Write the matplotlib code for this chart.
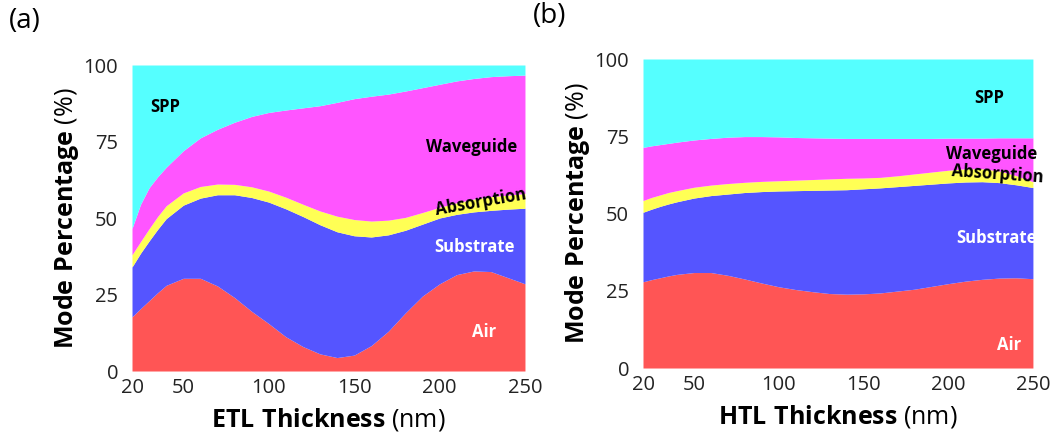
import numpy as np
import matplotlib.pyplot as plt

plt.rcParams['font.family'] = ['Open Sans', 'DejaVu Sans']
plt.rcParams['mathtext.fontset'] = 'custom'
plt.rcParams['mathtext.rm'] = 'Open Sans'
plt.rcParams['mathtext.bf'] = 'Open Sans:bold'

thickness = [20, 25, 30, 35, 40, 50, 60, 70, 80, 90, 100, 110, 120, 130,
             140, 150, 160, 170, 180, 190, 200, 210, 220, 230, 240, 250]

# (a) ETL: cumulative upper edge of each mode band (%)
air_a = [17.7, 20.4, 23.0, 25.6, 28.0, 30.3, 30.3, 27.8, 24.0, 19.5, 15.5, 11.2, 8.0, 5.6,
         4.4, 5.2, 8.3, 13.0, 19.0, 24.5, 28.5, 31.5, 32.7, 32.5, 30.5, 28.5]
substrate_a = [34.0, 38.5, 42.5, 46.3, 49.8, 54.2, 56.5, 57.6, 57.6, 56.7, 55.2, 53.0, 50.5, 47.8,
               45.5, 44.2, 43.8, 44.5, 46.0, 48.0, 50.0, 51.2, 52.0, 52.5, 52.9, 53.2]
absorption_a = [38.0, 42.3, 46.5, 50.5, 54.0, 58.2, 60.3, 61.1, 61.0, 60.2, 58.8, 56.8, 54.5, 52.3,
                50.6, 49.5, 49.0, 49.3, 50.2, 51.8, 53.5, 55.0, 56.2, 57.0, 57.5, 58.0]
waveguide_a = [46.6, 54.5, 59.9, 63.5, 66.6, 72.0, 76.2, 79.0, 81.3, 83.2, 84.5, 85.3, 86.0, 86.7,
               87.8, 89.0, 89.8, 90.5, 91.5, 92.6, 93.7, 94.8, 95.6, 96.2, 96.5, 96.7]

# (b) HTL
air_b = [27.9, 28.6, 29.2, 29.8, 30.3, 30.9, 30.9, 30.0, 28.8, 27.5, 26.3, 25.4, 24.7, 24.1,
         23.9, 24.0, 24.3, 24.9, 25.5, 26.4, 27.3, 28.1, 28.7, 29.1, 29.2, 28.9]
substrate_b = [50.4, 51.4, 52.3, 53.1, 53.8, 55.0, 55.8, 56.3, 56.8, 57.1, 57.3, 57.4, 57.5, 57.6,
               57.7, 58.0, 58.3, 58.7, 59.1, 59.5, 59.9, 60.2, 60.3, 60.0, 59.3, 58.4]
absorption_b = [54.2, 55.2, 56.0, 56.8, 57.4, 58.5, 59.2, 59.7, 60.1, 60.4, 60.6, 60.8, 61.0, 61.2,
                61.4, 61.5, 61.7, 62.2, 62.8, 63.4, 64.0, 64.5, 64.5, 63.8, 62.3, 60.3]
waveguide_b = [71.4, 71.9, 72.3, 72.7, 73.1, 73.8, 74.3, 74.7, 74.9, 74.9, 74.8, 74.6, 74.5, 74.4,
               74.3, 74.3, 74.3, 74.3, 74.3, 74.3, 74.4, 74.4, 74.4, 74.5, 74.5, 74.5]

colors = ['#FF5555', '#5555FF', '#FFFF55', '#FF55FF', '#55FFFF']
xticks = [20, 50, 100, 150, 200, 250]
yticks = [0, 25, 50, 75, 100]

fig = plt.figure(figsize=(10.51, 4.41), dpi=100)
ax_a = fig.add_axes([0.1256, 0.1587, 0.3739, 0.6939])
ax_b = fig.add_axes([0.6118, 0.1655, 0.3710, 0.7007])


def draw(ax, edges, xlabel):
    x = np.array(thickness)
    lower = np.zeros(len(x))
    for top, c in zip(edges + [np.full(len(x), 100.0)], colors):
        top = np.array(top)
        ax.fill_between(x, lower, top, color=c, linewidth=0)
        lower = top
    ax.set_xlim(20, 250)
    ax.set_ylim(0, 100)
    ax.set_xticks(xticks)
    ax.set_yticks(yticks)
    ax.tick_params(length=0, labelsize=14.5, colors='#222222')
    ax.tick_params(axis='x', pad=5)
    ax.tick_params(axis='y', pad=10)
    for s in ax.spines.values():
        s.set_visible(False)
    ax.set_xlabel(r'$\mathbf{%s}$ (nm)' % xlabel.replace(' ', r'\ '),
                  fontsize=18, labelpad=6)
    ax.set_ylabel(r'$\mathbf{Mode\ Percentage}$ (%)', fontsize=18, labelpad=2)


draw(ax_a, [air_a, substrate_a, absorption_a, waveguide_a], 'ETL Thickness')
draw(ax_b, [air_b, substrate_b, absorption_b, waveguide_b], 'HTL Thickness')

lab = dict(fontsize=12, fontweight='bold', ha='center', va='center', clip_on=False)
ax_a.text(39.5, 86.3, 'SPP', color='black', **lab)
ax_a.text(219, 73.2, 'Waveguide', color='black', **lab)
ax_a.text(224, 55.2, 'Absorption', color='black', rotation=10, **lab)
ax_a.text(220.5, 40.4, 'Substrate', color='white', **lab)
ax_a.text(225.8, 12.7, 'Air', color='white', **lab)

ax_b.text(224.4, 87.4, 'SPP', color='black', **lab)
ax_b.text(225.6, 69.4, 'Waveguide', color='black', **lab)
ax_b.text(229, 62.6, 'Absorption', color='black', rotation=-4, **lab)
ax_b.text(228.6, 42, 'Substrate', color='white', **lab)
ax_b.text(236, 7.4, 'Air', color='white', **lab)

fig.text(0.008, 0.985, '(a)', fontsize=20, va='top')
fig.text(0.507, 0.995, '(b)', fontsize=20, va='top')

fig.savefig('out.png', dpi=100)
